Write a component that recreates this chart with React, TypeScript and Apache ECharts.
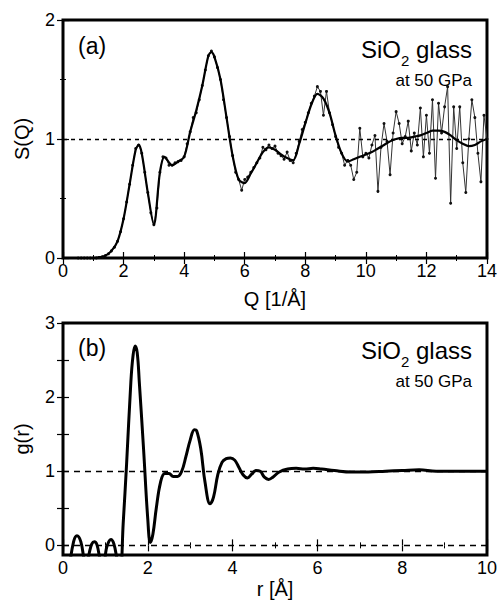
import React, { useEffect, useRef } from "react";
import * as echarts from "echarts";

const FONT = "'Liberation Sans', Arial, Helvetica, sans-serif";

// ---- Panel (a): measured S(Q), [Q, S] ----
const sqMeasured: [number, number][] = [
  [0.5, 0], [0.6, 0], [0.7, 0], [0.8, 0], [0.9, 0], [1.0, 0], [1.1, 0], [1.2, 0.005], [1.3, 0.01], [1.4, 0.02],
  [1.5, 0.035], [1.6, 0.06], [1.7, 0.09], [1.8, 0.14], [1.9, 0.22], [2.0, 0.33], [2.1, 0.47], [2.2, 0.62], [2.3, 0.78], [2.4, 0.92],
  [2.5, 0.95], [2.6, 0.88], [2.7, 0.72], [2.8, 0.55], [2.9, 0.38], [3.0, 0.28], [3.1, 0.42], [3.2, 0.72], [3.3, 0.85], [3.4, 0.84],
  [3.5, 0.78], [3.6, 0.78], [3.7, 0.8], [3.8, 0.81], [3.9, 0.82], [4.0, 0.85], [4.1, 0.96], [4.2, 1.06], [4.3, 1.18], [4.4, 1.22],
  [4.5, 1.33], [4.6, 1.45], [4.7, 1.58], [4.8, 1.7], [4.9, 1.74], [5.0, 1.69], [5.1, 1.6], [5.2, 1.5], [5.3, 1.33], [5.4, 1.18],
  [5.5, 1.02], [5.6, 0.86], [5.7, 0.72], [5.8, 0.66], [5.9, 0.57], [6.0, 0.66], [6.1, 0.68], [6.2, 0.72], [6.3, 0.76], [6.4, 0.8],
  [6.5, 0.84], [6.6, 0.93], [6.7, 0.91], [6.8, 0.95], [6.9, 0.92], [7.0, 0.94], [7.1, 0.88], [7.2, 0.86], [7.3, 0.83], [7.4, 0.89],
  [7.5, 0.82], [7.6, 0.8], [7.7, 0.88], [7.8, 0.98], [7.9, 1.08], [8.0, 1.14], [8.1, 1.22], [8.2, 1.3], [8.3, 1.36], [8.4, 1.44],
  [8.5, 1.4], [8.6, 1.2], [8.7, 1.4], [8.8, 1.22], [8.9, 1.12], [9.0, 1.02], [9.1, 0.93], [9.2, 0.88], [9.3, 0.78], [9.4, 0.82],
  [9.5, 0.78], [9.6, 0.66], [9.7, 0.72], [9.8, 1.09], [9.9, 0.85], [10.0, 0.88], [10.1, 0.84], [10.2, 0.95], [10.3, 1.03], [10.4, 0.56],
  [10.5, 0.93], [10.6, 1.13], [10.7, 0.98], [10.8, 0.7], [10.9, 1.05], [11.0, 1.23], [11.1, 1.13], [11.2, 0.96], [11.3, 1.02], [11.4, 1.15],
  [11.5, 0.9], [11.6, 1.05], [11.7, 0.95], [11.8, 1.26], [11.9, 0.85], [12.0, 1.2], [12.1, 0.88], [12.2, 1.33], [12.3, 0.67], [12.4, 1.3],
  [12.5, 1.05], [12.6, 1.27], [12.7, 1.44], [12.8, 0.46], [12.9, 1.27], [13.0, 0.92], [13.1, 1.27], [13.2, 0.8], [13.3, 0.55], [13.4, 1.0],
  [13.5, 1.33], [13.6, 1.18], [13.7, 0.88], [13.8, 0.64], [13.9, 1.2], [14.0, 1.0],
];

// ---- Panel (a): smooth fitted S(Q), [Q, S] ----
const sqFit: [number, number][] = [
  [0, 0], [0.2, 0], [0.4, 0], [0.6, 0], [0.8, 0], [1.0, 0], [1.2, 0.005], [1.4, 0.02], [1.6, 0.06], [1.8, 0.14],
  [2.0, 0.33], [2.2, 0.62], [2.4, 0.91], [2.5, 0.95], [2.6, 0.88], [2.8, 0.55], [3.0, 0.28], [3.2, 0.72], [3.35, 0.85], [3.6, 0.78],
  [3.8, 0.81], [4.0, 0.85], [4.2, 1.06], [4.4, 1.24], [4.6, 1.45], [4.8, 1.7], [4.9, 1.73], [5.0, 1.69], [5.2, 1.5], [5.4, 1.18],
  [5.6, 0.86], [5.8, 0.66], [6.0, 0.63], [6.2, 0.71], [6.4, 0.8], [6.6, 0.89], [6.8, 0.93], [7.0, 0.91], [7.2, 0.87], [7.4, 0.84],
  [7.6, 0.82], [7.8, 0.96], [8.0, 1.13], [8.2, 1.29], [8.4, 1.38], [8.6, 1.34], [8.8, 1.22], [9.0, 1.03], [9.2, 0.88], [9.4, 0.81],
  [9.6, 0.83], [9.8, 0.85], [10.0, 0.87], [10.2, 0.89], [10.4, 0.92], [10.6, 0.95], [10.8, 0.98], [11.0, 1.0], [11.2, 1.01], [11.4, 1.01],
  [11.6, 1.02], [11.8, 1.03], [12.0, 1.05], [12.2, 1.07], [12.4, 1.07], [12.6, 1.06], [12.8, 1.03], [13.0, 0.99], [13.2, 0.96], [13.4, 0.94],
  [13.6, 0.95], [13.8, 0.98], [14.0, 1.0],
];

// ---- Panel (b): g(r), [r, g] ----
const grCurve: [number, number][] = [
  [0.15, -0.3], [0.25, 0.05], [0.33, 0.13], [0.42, 0.05], [0.5, -0.2], [0.55, -0.3], [0.62, -0.1], [0.68, 0.02], [0.74, 0.05], [0.8, 0.01],
  [0.88, -0.2], [0.95, -0.3], [1.02, -0.05], [1.08, 0.05], [1.13, 0.08], [1.2, 0.02], [1.28, -0.2], [1.35, -0.35], [1.42, 0.3], [1.5, 1.1],
  [1.6, 2.2], [1.65, 2.55], [1.7, 2.69], [1.75, 2.6], [1.8, 2.2], [1.9, 1.3], [2.0, 0.35], [2.06, 0.04], [2.12, 0.15], [2.2, 0.5],
  [2.3, 0.85], [2.4, 0.97], [2.5, 0.97], [2.6, 0.93], [2.7, 0.93], [2.8, 1.0], [2.9, 1.2], [3.0, 1.42], [3.1, 1.56], [3.15, 1.55],
  [3.25, 1.3], [3.35, 0.85], [3.47, 0.56], [3.55, 0.65], [3.65, 0.95], [3.75, 1.12], [3.85, 1.17], [3.95, 1.18], [4.05, 1.15], [4.15, 1.05],
  [4.25, 0.95], [4.35, 0.91], [4.45, 0.96], [4.55, 1.01], [4.65, 1.0], [4.75, 0.92], [4.85, 0.89], [4.95, 0.92], [5.1, 0.99], [5.3, 1.03],
  [5.5, 1.04], [5.7, 1.03], [5.9, 1.04], [6.1, 1.03], [6.4, 1.01], [6.8, 0.99], [7.2, 0.99], [7.6, 1.0], [8.0, 1.01], [8.4, 1.02],
  [8.8, 1.0], [9.2, 1.0], [9.6, 1.0], [10.0, 1.0],
];

const gLabelValues = [0, 1, 2, 3];
const gTickValues = [0, 0.5, 1, 1.5, 2, 2.5, 3];

export default function App() {
  const ref = useRef<HTMLDivElement>(null);

  useEffect(() => {
    if (!ref.current) return;
    const chart = echarts.init(ref.current, undefined, { renderer: "svg" });

    const labelStyle = { color: "#000", fontSize: 18, fontFamily: FONT };
    const nameStyle = { color: "#000", fontSize: 20, fontFamily: FONT };
    const tickIn = { show: true, inside: true, length: 6, lineStyle: { color: "#000", width: 1.2 } };
    const minorIn = { show: true, splitNumber: 2, length: 3, lineStyle: { color: "#000", width: 1 } };
    const hiddenAxis = {
      axisLine: { show: false },
      axisLabel: { show: false },
      splitLine: { show: false },
    };
    const richSiO2 = {
      a: { fontSize: 24, fontWeight: "normal", color: "#000", fontFamily: FONT, verticalAlign: "top", padding: [0, 0, 7, 0] },
      b: { fontSize: 15, fontWeight: "normal", color: "#000", fontFamily: FONT, verticalAlign: "bottom" },
    };

    const option: any = {
      animation: false,
      backgroundColor: "#fff",
      textStyle: { fontFamily: FONT },
      title: [
        { text: "(a)", left: 78, top: 34, padding: 0, textStyle: { fontSize: 23, fontWeight: "normal", color: "#000", fontFamily: FONT } },
        { text: "{a|SiO}{b|2}{a| glass}", right: 28, top: 37, padding: 0, textStyle: { fontWeight: "normal", rich: richSiO2 } },
        { text: "at 50 GPa", right: 28, top: 72, padding: 0, textStyle: { fontSize: 17, fontWeight: "normal", color: "#000", fontFamily: FONT } },
        { text: "(b)", left: 78, top: 336, padding: 0, textStyle: { fontSize: 23, fontWeight: "normal", color: "#000", fontFamily: FONT } },
        { text: "{a|SiO}{b|2}{a| glass}", right: 28, top: 338, padding: 0, textStyle: { fontWeight: "normal", rich: richSiO2 } },
        { text: "at 50 GPa", right: 28, top: 373, padding: 0, textStyle: { fontSize: 17, fontWeight: "normal", color: "#000", fontFamily: FONT } },
      ],
      grid: [
        { left: 63, top: 20, right: 9, bottom: 342, show: true, borderColor: "#000", borderWidth: 3, backgroundColor: "transparent" },
        { left: 63, top: 323, right: 9, bottom: 42, show: true, borderColor: "#000", borderWidth: 3, backgroundColor: "transparent" },
      ],
      xAxis: [
        {
          type: "value", gridIndex: 0, min: 0, max: 14, interval: 2,
          name: "Q [1/Å]", nameLocation: "middle", nameGap: 31, nameTextStyle: nameStyle,
          axisLine: { show: false }, axisTick: tickIn, minorTick: minorIn,
          axisLabel: { ...labelStyle, margin: 4 }, splitLine: { show: false },
        },
        {
          type: "value", gridIndex: 0, min: 0, max: 14, interval: 2, position: "top",
          axisTick: tickIn, minorTick: minorIn, ...hiddenAxis,
        },
        {
          type: "value", gridIndex: 1, min: 0, max: 10, interval: 2,
          name: "r [Å]", nameLocation: "middle", nameGap: 24, nameTextStyle: nameStyle,
          axisLine: { show: false }, axisTick: tickIn, minorTick: minorIn,
          axisLabel: { ...labelStyle, margin: 4 }, splitLine: { show: false },
        },
        {
          type: "value", gridIndex: 1, min: 0, max: 10, interval: 2, position: "top",
          axisTick: tickIn, minorTick: minorIn, ...hiddenAxis,
        },
      ],
      yAxis: [
        {
          type: "value", gridIndex: 0, min: 0, max: 2, interval: 1,
          name: "S(Q)", nameLocation: "middle", nameGap: 31, nameTextStyle: nameStyle,
          axisLine: { show: false }, axisTick: tickIn, minorTick: minorIn,
          axisLabel: { ...labelStyle, margin: 8 }, splitLine: { show: false },
        },
        {
          type: "value", gridIndex: 0, min: 0, max: 2, interval: 1, position: "right",
          axisTick: tickIn, minorTick: minorIn, ...hiddenAxis,
        },
        {
          type: "value", gridIndex: 1, min: -0.13, max: 3,
          name: "g(r)", nameLocation: "middle", nameGap: 31, nameTextStyle: nameStyle,
          axisLine: { show: false },
          axisTick: { ...tickIn, customValues: gTickValues },
          axisLabel: { ...labelStyle, margin: 8, customValues: gLabelValues },
          splitLine: { show: false },
        },
        {
          type: "value", gridIndex: 1, min: -0.13, max: 3, position: "right",
          axisTick: { ...tickIn, customValues: gTickValues }, ...hiddenAxis,
        },
      ],
      series: [
        {
          type: "line", xAxisIndex: 0, yAxisIndex: 0, data: sqMeasured,
          symbol: "circle", symbolSize: 3, showSymbol: true,
          itemStyle: { color: "#111" },
          lineStyle: { color: "#333", width: 1 },
          markLine: {
            silent: true, symbol: "none", label: { show: false },
            lineStyle: { color: "#000", width: 1.3, type: [4, 4] },
            data: [{ yAxis: 1 }],
          },
          z: 2,
        },
        {
          type: "line", xAxisIndex: 0, yAxisIndex: 0, data: sqFit,
          symbol: "none", smooth: 0.3,
          lineStyle: { color: "#000", width: 2.2 },
          z: 3,
        },
        {
          type: "line", xAxisIndex: 2, yAxisIndex: 2, data: grCurve,
          symbol: "none", smooth: 0.4,
          lineStyle: { color: "#000", width: 3 },
          markLine: {
            silent: true, symbol: "none", label: { show: false },
            lineStyle: { color: "#000", width: 1.3, type: [6, 5] },
            data: [{ yAxis: 1 }, { yAxis: 0 }],
          },
          z: 3,
        },
      ],
    };

    chart.setOption(option);
    return () => chart.dispose();
  }, []);

  return (
    <div
      ref={ref}
      style={{ position: "fixed", left: 0, top: 0, width: 500, height: 600, background: "#fff" }}
    />
  );
}
